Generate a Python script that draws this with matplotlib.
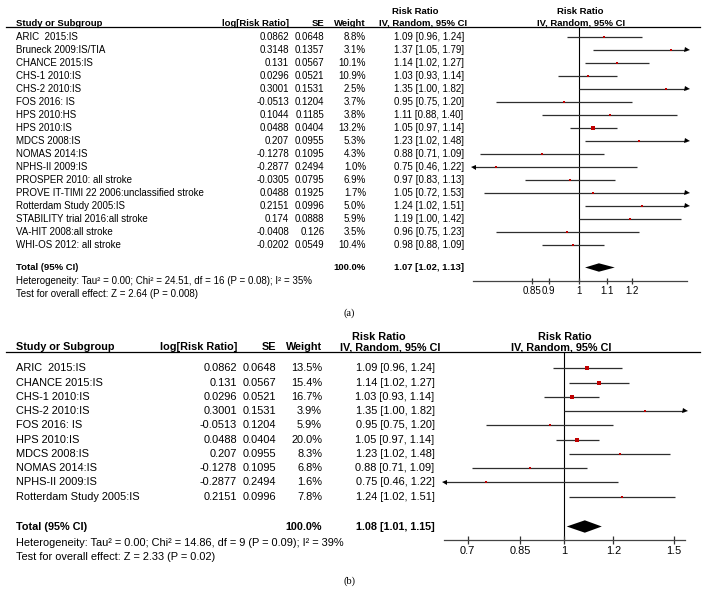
import numpy as np
import matplotlib
matplotlib.use("Agg")
import matplotlib.pyplot as plt
from matplotlib.lines import Line2D
from matplotlib.transforms import blended_transform_factory
from matplotlib.ticker import FixedLocator, FixedFormatter, NullLocator

plt.rcParams['font.family'] = ['Liberation Sans', 'DejaVu Sans']

W, H = 702, 602

# ---- panel (a) data ----
studies_a = ["ARIC  2015:IS", "Bruneck 2009:IS/TIA", "CHANCE 2015:IS", "CHS-1 2010:IS",
             "CHS-2 2010:IS", "FOS 2016: IS", "HPS 2010:HS", "HPS 2010:IS", "MDCS 2008:IS",
             "NOMAS 2014:IS", "NPHS-II 2009:IS", "PROSPER 2010: all stroke",
             "PROVE IT-TIMI 22 2006:unclassified stroke", "Rotterdam Study 2005:IS",
             "STABILITY trial 2016:all stroke", "VA-HIT 2008:all stroke", "WHI-OS 2012: all stroke"]
logrr_a = [0.0862, 0.3148, 0.131, 0.0296, 0.3001, -0.0513, 0.1044, 0.0488, 0.207,
           -0.1278, -0.2877, -0.0305, 0.0488, 0.2151, 0.174, -0.0408, -0.0202]
se_a = [0.0648, 0.1357, 0.0567, 0.0521, 0.1531, 0.1204, 0.1185, 0.0404, 0.0955,
        0.1095, 0.2494, 0.0795, 0.1925, 0.0996, 0.0888, 0.126, 0.0549]
weight_a = [8.8, 3.1, 10.1, 10.9, 2.5, 3.7, 3.8, 13.2, 5.3, 4.3, 1.0, 6.9, 1.7, 5.0, 5.9, 3.5, 10.4]
rr_a = [1.09, 1.37, 1.14, 1.03, 1.35, 0.95, 1.11, 1.05, 1.23, 0.88, 0.75, 0.97, 1.05, 1.24, 1.19, 0.96, 0.98]
lo_a = [0.96, 1.05, 1.02, 0.93, 1.00, 0.75, 0.88, 0.97, 1.02, 0.71, 0.46, 0.83, 0.72, 1.02, 1.00, 0.75, 0.88]
hi_a = [1.24, 1.79, 1.27, 1.14, 1.82, 1.20, 1.40, 1.14, 1.48, 1.09, 1.22, 1.13, 1.53, 1.51, 1.42, 1.23, 1.09]
total_a = [1.07, 1.02, 1.13]
het_a = "Heterogeneity: Tau\u00b2 = 0.00; Chi\u00b2 = 24.51, df = 16 (P = 0.08); I\u00b2 = 35%"
test_a = "Test for overall effect: Z = 2.64 (P = 0.008)"
ticks_a = [0.85, 0.9, 1, 1.1, 1.2]
ticklabels_a = ["0.85", "0.9", "1", "1.1", "1.2"]

# ---- panel (b) data ----
studies_b = ["ARIC  2015:IS", "CHANCE 2015:IS", "CHS-1 2010:IS", "CHS-2 2010:IS", "FOS 2016: IS",
             "HPS 2010:IS", "MDCS 2008:IS", "NOMAS 2014:IS", "NPHS-II 2009:IS", "Rotterdam Study 2005:IS"]
logrr_b = [0.0862, 0.131, 0.0296, 0.3001, -0.0513, 0.0488, 0.207, -0.1278, -0.2877, 0.2151]
se_b = [0.0648, 0.0567, 0.0521, 0.1531, 0.1204, 0.0404, 0.0955, 0.1095, 0.2494, 0.0996]
weight_b = [13.5, 15.4, 16.7, 3.9, 5.9, 20.0, 8.3, 6.8, 1.6, 7.8]
rr_b = [1.09, 1.14, 1.03, 1.35, 0.95, 1.05, 1.23, 0.88, 0.75, 1.24]
lo_b = [0.96, 1.02, 0.93, 1.00, 0.75, 0.97, 1.02, 0.71, 0.46, 1.02]
hi_b = [1.24, 1.27, 1.14, 1.82, 1.20, 1.14, 1.48, 1.09, 1.22, 1.51]
total_b = [1.08, 1.01, 1.15]
het_b = "Heterogeneity: Tau\u00b2 = 0.00; Chi\u00b2 = 14.86, df = 9 (P = 0.09); I\u00b2 = 39%"
test_b = "Test for overall effect: Z = 2.33 (P = 0.02)"
ticks_b = [0.7, 0.85, 1, 1.2, 1.5]
ticklabels_b = ["0.7", "0.85", "1", "1.2", "1.5"]

fig = plt.figure(figsize=(W / 100, H / 100), dpi=100)


def forest(studies, logrr, se, weight, rr, lo, hi, total, het, test, ticks, ticklabels,
           lay, label):
    fs = lay['fs']
    ax = fig.add_axes([lay['left'] / W, 1 - lay['bottom'] / H,
                       (lay['right'] - lay['left']) / W, (lay['bottom'] - lay['top']) / H])
    y0, dy = lay['y0'], lay['dy']
    row = lambda py: (py - y0) / dy
    ax.set_xscale('log')
    ax.set_xlim(lay['xlim'])
    ax.set_ylim(row(lay['bottom']), row(lay['top']))
    for s in ['top', 'left', 'right']:
        ax.spines[s].set_visible(False)
    ax.spines['bottom'].set_color('#444444')
    ax.spines['bottom'].set_linewidth(0.9)
    ax.yaxis.set_visible(False)
    ax.xaxis.set_major_locator(FixedLocator(ticks))
    ax.xaxis.set_major_formatter(FixedFormatter(ticklabels))
    ax.xaxis.set_minor_locator(NullLocator())
    ax.tick_params(axis='x', direction='inout', length=lay['ticklen'], width=0.9,
                   color='#333333', labelsize=fs, pad=lay['pad'])
    ax.axvline(1, color='black', lw=0.8, zorder=1)

    xmin, xmax = lay['xlim']
    ys = np.arange(len(studies))
    for y, r, l, h, w in zip(ys, rr, lo, hi, weight):
        ax.hlines(y, max(l, xmin), min(h, xmax), color='#2e2e2e', lw=0.9, zorder=2)
        if h > xmax:
            ax.plot([xmax], [y], marker='>', color='black', ms=3.6, mew=0, clip_on=False)
        if l < xmin:
            ax.plot([xmin], [y], marker='<', color='black', ms=3.6, mew=0, clip_on=False)
        side = max(lay['k'] * np.sqrt(w), 1.6) * 0.72
        ax.scatter([r], [y], marker='s', s=side ** 2, color='#c00000', linewidths=0, zorder=3)

    # pooled diamond
    yt = row(lay['ytot'])
    hd = lay['dh'] / dy
    ax.fill([total[1], total[0], total[2], total[0]], [yt, yt - hd, yt, yt + hd],
            color='black', lw=0, zorder=3)

    tr = blended_transform_factory(fig.transFigure, ax.transData)
    c = lay['cols']
    kw = dict(transform=tr, fontsize=fs, va='center', color='black')
    for y, st, lr, e, w, r, l, h in zip(ys, studies, logrr, se, weight, rr, lo, hi):
        fig.text(c['study'] / W, y, st, ha='left', **kw)
        fig.text(c['logrr'] / W, y, str(lr), ha='right', **kw)
        fig.text(c['se'] / W, y, str(e), ha='right', **kw)
        fig.text(c['w'] / W, y, f"{w:.1f}%", ha='right', **kw)
        fig.text(c['rr'] / W, y, f"{r:.2f} [{l:.2f}, {h:.2f}]", ha='center', **kw)

    # headers
    hb = row(lay['hbase'])
    h1 = row(lay['h1'])
    hk = dict(transform=tr, fontsize=lay['hfs'], fontweight='bold', color='black')
    fig.text(c['study'] / W, hb, "Study or Subgroup", ha='left', va='baseline', **hk)
    fig.text(c['logrr'] / W, hb, "log[Risk Ratio]", ha='right', va='baseline', **hk)
    fig.text(c['se'] / W, hb, "SE", ha='right', va='baseline', **hk)
    fig.text(c['w'] / W, hb, "Weight", ha='right', va='baseline', **hk)
    fig.text(c['rrh1'] / W, h1, "Risk Ratio", ha='center', va='center', **hk)
    fig.text(c['rrh2'] / W, hb, "IV, Random, 95% CI", ha='center', va='baseline', **hk)
    fig.text(c['ph1'] / W, h1, "Risk Ratio", ha='center', va='center', **hk)
    fig.text(c['ph2'] / W, hb, "IV, Random, 95% CI", ha='center', va='baseline', **hk)
    fig.add_artist(Line2D([6 / W, 700 / W], [1 - lay['top'] / H] * 2, color='black', lw=0.9))

    # total and footer
    tk = dict(transform=tr, fontsize=lay['hfs'], fontweight='bold', va='center', color='black')
    fig.text(c['study'] / W, yt, "Total (95% CI)", ha='left', **tk)
    fig.text(c['w'] / W, yt, "100.0%", ha='right', **tk)
    fig.text(c['rr'] / W, yt, f"{total[0]:.2f} [{total[1]:.2f}, {total[2]:.2f}]", ha='center', **tk)
    fig.text(c['study'] / W, row(lay['yhet']), het, ha='left', **kw)
    fig.text(c['study'] / W, row(lay['ytest']), test, ha='left', **kw)
    fig.text(lay['labx'] / W, row(lay['laby']), label, ha='center', va='center',
             transform=tr, fontsize=7.5, family=['Liberation Serif', 'DejaVu Serif'])
    return ax


lay_a = dict(fs=7.0, hfs=6.8, left=472.5, right=686.7, top=27.3, bottom=281, y0=37, dy=13,
             xlim=(0.692, 1.448), ytot=267.5, dh=4.2, yhet=281, ytest=294,
             hbase=25.8, h1=11.5, ticklen=4.8, pad=1.2, k=0.9, labx=349, laby=313,
             cols=dict(study=16, logrr=289, se=324.5, w=366, rr=429, rrh1=415, rrh2=423,
                       ph1=580, ph2=581))
lay_b = dict(fs=7.9, hfs=7.8, left=443.5, right=685, top=351.7, bottom=539.5, y0=368.3, dy=14.27,
             xlim=(0.64, 1.565), ytot=526.5, dh=6.2, yhet=542.7, ytest=556.7,
             hbase=350.0, h1=336.7, ticklen=5.8, pad=2.0, k=0.95, labx=349, laby=581,
             cols=dict(study=16, logrr=237, se=276.5, w=322, rr=395, rrh1=379, rrh2=390,
                       ph1=565, ph2=561))

forest(studies_a, logrr_a, se_a, weight_a, rr_a, lo_a, hi_a, total_a, het_a, test_a,
       ticks_a, ticklabels_a, lay_a, "(a)")
forest(studies_b, logrr_b, se_b, weight_b, rr_b, lo_b, hi_b, total_b, het_b, test_b,
       ticks_b, ticklabels_b, lay_b, "(b)")

fig.savefig("out.png", dpi=100, facecolor='white')
